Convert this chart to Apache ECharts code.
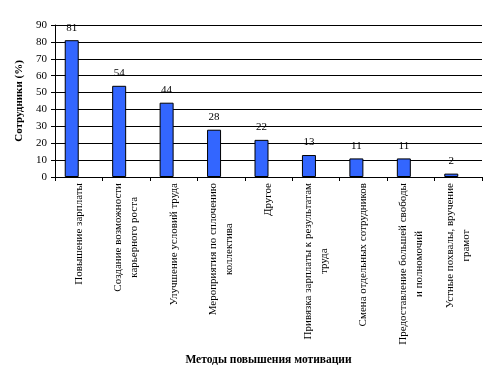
<!DOCTYPE html>
<html><head><meta charset="utf-8">
<script src="https://cdn.jsdelivr.net/npm/echarts@6/dist/echarts.min.js"></script>
<style>html,body{margin:0;padding:0;background:#fff}#c{width:497px;height:385px}</style>
</head><body><div id="c"></div>
<script>
const categories = [
  'Повышение зарплаты',
  'Создание возможности\nкарьерного роста',
  'Улучшение условий труда',
  'Мероприятия по сплочению\nколлектива',
  'Другое',
  'Привязка зарплаты к результатам\nтруда',
  'Смена отдельных сотрудников',
  'Предоставление большей свободы\nи полномочий',
  'Устные похвалы, вручение\nграмот'
];
const values = [81, 54, 44, 28, 22, 13, 11, 11, 2];
const yTicks = { min: 0, max: 90, interval: 10 };
const yName = 'Сотрудники (%)';
const xName = 'Методы повышения мотивации';

const font = '"Liberation Serif", "Times New Roman", serif';
const chart = echarts.init(document.getElementById('c'), null, { renderer: 'canvas' });
chart.setOption({
  animation: false,
  backgroundColor: '#fff',
  grid: { left: 55, right: 15, top: 25, bottom: 208, containLabel: false },
  xAxis: {
    type: 'category',
    data: categories,
    boundaryGap: true,
    name: xName,
    nameLocation: 'middle',
    nameGap: 177,
    nameTextStyle: { fontFamily: font, fontSize: 11.5, fontWeight: 'bold', color: '#000' },
    axisLine: { show: true, lineStyle: { color: '#000', width: 1 } },
    axisTick: { show: true, alignWithLabel: false, length: 4, lineStyle: { color: '#000' } },
    axisLabel: {
      interval: 0, rotate: 90, margin: 6,
      fontFamily: font, fontSize: 11, color: '#000', lineHeight: 16,
      formatter: v => v.split('\n').map(s => '{c|' + s + '}').join('\n'),
      rich: { c: { align: 'center', fontFamily: font, fontSize: 11, color: '#000', lineHeight: 16 } }
    },
    splitLine: { show: false }
  },
  yAxis: {
    type: 'value',
    min: yTicks.min, max: yTicks.max, interval: yTicks.interval,
    name: yName,
    nameLocation: 'middle',
    nameGap: 21,
    nameTextStyle: { fontFamily: font, fontSize: 11, fontWeight: 'bold', color: '#000' },
    axisLine: { show: true, lineStyle: { color: '#000', width: 1 } },
    axisTick: { show: true, length: 4, lineStyle: { color: '#000' } },
    axisLabel: { fontFamily: font, fontSize: 11, color: '#000', margin: 8 },
    splitLine: { show: true, lineStyle: { color: '#000', width: 1 } }
  },
  series: [
    {
      type: 'bar',
      data: values,
      barWidth: 14,
      barGap: '0%',
      itemStyle: { color: '#3366FF', borderColor: '#000', borderWidth: 1 },
      label: { show: true, position: 'top', distance: 7, fontFamily: font, fontSize: 11, color: '#000' }
    },
    {
      type: 'bar',
      data: values.map(() => '-'),
      barWidth: 14,
      barGap: '0%',
      silent: true
    }
  ]
});
</script></body></html>
